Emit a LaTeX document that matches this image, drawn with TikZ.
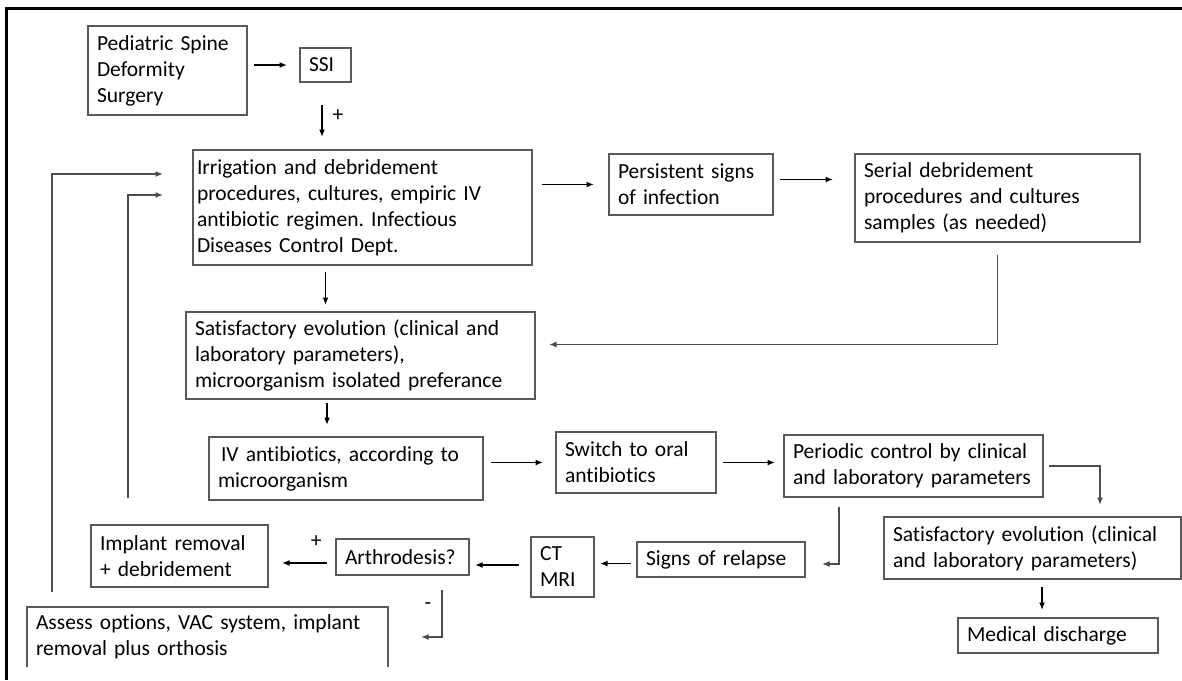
\documentclass[tikz,border=0pt]{standalone}
\usepackage{fontspec}
\setmainfont{Carlito}[Ligatures=NoCommon]
\usetikzlibrary{arrows.meta}
\frenchspacing
\begin{document}
\begin{tikzpicture}[x=1pt,y=-1pt,
  box/.style={draw=black!65, line width=1.4pt, inner xsep=9pt, inner ysep=0pt, outer sep=0pt, anchor=north west, align=left, font=\fontsize{21.5}{26}\selectfont, text=black},
  arr/.style={-{Latex[length=7.5pt,width=6pt]}, line width=1.6pt, black},
  garr/.style={-{Latex[length=7.5pt,width=6pt]}, line width=1.4pt, black!70},
  ln/.style={line width=1.4pt, black!65},
  lbl/.style={font=\fontsize{21.5}{26}\selectfont, inner sep=0pt, text=black}]
\useasboundingbox (0,0) rectangle (1182,680);
\fill[white] (0,0) rectangle (1182,680);
\draw[line width=3pt] (6.5,680) -- (6.5,8.5) -- (1182,8.5);

\node[box, text width=141pt, minimum height=89pt] (ped) at (88,26) {Pediatric Spine\\Deformity\\Surgery};
\node[box, text width=33pt, minimum height=34pt] (ssi) at (300,48) {SSI};
\node[box, inner xsep=4pt, text width=331pt, minimum height=115pt] (irr) at (193,150) {Irrigation and debridement\\procedures, cultures, empiric IV\\antibiotic regimen. Infectious\\Diseases Control Dept.};
\node[box, text width=146pt, minimum height=61pt] (pers) at (609,154) {Persistent signs\\of infection};
\node[box, text width=267pt, minimum height=88pt] (serial) at (855,154) {Serial debridement\\procedures and cultures\\samples (as needed)};
\node[box, text width=331pt, minimum height=87pt] (sat1) at (186,312) {\mbox{Satisfactory evolution (clinical and}\\laboratory parameters),\\microorganism isolated preferance};
\node[box, text width=256pt, minimum height=63pt] (iv) at (209,437) {\hspace{3pt}IV antibiotics, according to\\microorganism};
\node[box, text width=142pt, minimum height=61pt] (switch) at (556,432) {Switch to oral\\antibiotics};
\node[box, text width=241pt, minimum height=62pt] (periodic) at (784,435) {\mbox{Periodic control by clinical}\\\mbox{and laboratory parameters}};
\node[box, text width=279pt, minimum height=62pt] (sat2) at (884,517) {\mbox{Satisfactory evolution (clinical}\\\mbox{and laboratory parameters)}};
\node[box, text width=182pt, minimum height=35pt] (medical) at (958,618) {Medical discharge};
\node[box, text width=150pt, minimum height=35pt] (signs) at (637,542) {Signs of relapse};
\node[box, text width=45pt, minimum height=60pt] (ct) at (531,537) {CT\\MRI};
\node[box, text width=115pt, minimum height=36pt] (arth) at (336,539) {Arthrodesis?};
\node[box, text width=159pt, minimum height=62pt] (implant) at (91,525) {Implant removal\\+ debridement};
\node[box, draw=none, text width=343pt, minimum height=60pt] (assess) at (27,607) {\mbox{Assess options, VAC system, implant}\\removal plus orthosis};
\draw[ln] (assess.south west) -- (assess.north west) -- (assess.north east) -- (assess.south east);

% connectors
\draw[arr, shorten <=7pt, shorten >=13pt] (ped.east |- ssi.west) -- (ssi.west);
\coordinate (s1) at ([xshift=-3.5pt]ssi.south);
\draw[arr, shorten <=23pt, shorten >=13pt] (s1) -- (s1 |- irr.north) node[lbl, midway, xshift=16pt] {+};
\draw[arr, shorten <=10pt, shorten >=15pt] (irr.east |- pers.west) -- (pers.west);
\coordinate (p1) at ([yshift=5pt]pers.east);
\draw[arr, shorten <=7pt, shorten >=22pt] (p1) -- (p1 -| serial.west);
\coordinate (s2) at ([yshift=11pt]sat1.east);
\draw[garr, shorten <=13pt, shorten >=14pt] (serial.south) |- (s2);
\coordinate (i1) at ([xshift=-37pt]irr.south);
\draw[arr, shorten <=7pt, shorten >=7pt] (i1) -- (i1 |- sat1.north);
\coordinate (s3) at ([xshift=-33.5pt]sat1.south);
\draw[arr, shorten <=4pt, shorten >=12pt] (s3) -- (s3 |- iv.north);
\draw[arr, shorten <=8pt, shorten >=13pt] (iv.east |- switch.west) -- (switch.west);
\draw[arr, shorten <=7pt, shorten >=9pt] (switch.east) -- (switch.east -| periodic.west);
\coordinate (s4) at ([xshift=67.5pt]sat2.north);
\draw[garr, shorten <=6pt, shorten >=12pt] (periodic.east) -| (s4);
\coordinate (m1) at ([xshift=9.5pt]sat2.south);
\draw[arr, shorten <=8pt, shorten >=8pt] (m1) -- (m1 |- medical.north);
\coordinate (p2) at ([xshift=-74.5pt]periodic.south);
\coordinate (s5) at ([yshift=-4.5pt]signs.east);
\draw[garr, shorten <=10pt, shorten >=17pt] (p2) |- (s5);
\coordinate (s6) at ([yshift=-4pt]signs.west);
\draw[arr, shorten <=6pt, shorten >=6pt] (s6) -- (s6 -| ct.east);
\coordinate (a1) at ([yshift=-8pt]arth.east);
\draw[arr, shorten <=12pt, shorten >=6pt] (a1 -| ct.west) -- (a1);
\coordinate (a2) at ([yshift=-6pt]arth.west);
\draw[arr, shorten <=9pt, shorten >=14pt] (a2) -- (a2 -| implant.east) node[lbl, pos=0.29, yshift=21pt] {+};
\coordinate (a3) at ([xshift=39.5pt]arth.south);
\draw[garr, shorten <=15pt, shorten >=33pt] (a3) |- (assess.east) node[lbl, pos=0.25, xshift=-14pt] {-};
\coordinate (l1) at ([xshift=25pt]assess.north west);
\coordinate (l2) at ([yshift=33.5pt]irr.west);
\draw[garr, shorten <=15pt, shorten >=30pt] (l1) |- (l2);
\coordinate (l3) at ([xshift=37pt]implant.north west);
\coordinate (l4) at ([yshift=12.5pt]irr.west);
\draw[garr, shorten <=27pt, shorten >=30pt] (l3) |- (l4);
\end{tikzpicture}
\end{document}
